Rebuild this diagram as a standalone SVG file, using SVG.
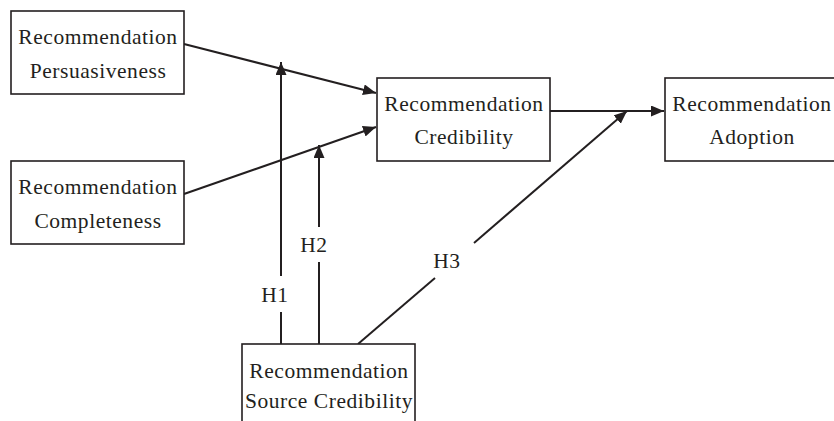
<svg xmlns="http://www.w3.org/2000/svg" width="834" height="421" viewBox="0 0 834 421">
<style>
.box{fill:#fff;stroke:#231f20;stroke-width:1.6}
.t{font-family:"Liberation Serif","Times New Roman",serif;font-size:21.5px;letter-spacing:0.55px;fill:#231f20;text-anchor:middle}
.c{stroke:#231f20;stroke-width:2;fill:none}
</style>
<defs>
<marker id="ah" markerUnits="userSpaceOnUse" markerWidth="14" markerHeight="12" refX="13" refY="5.5" orient="auto">
<path d="M0,0 L13,5.5 L0,11 z" fill="#231f20"/>
</marker>
</defs>
<rect width="834" height="421" fill="#fff"/>
<g id="connectors">
<line class="c" x1="184" y1="44" x2="376" y2="93" marker-end="url(#ah)"/>
<line class="c" x1="184" y1="194" x2="376" y2="127" marker-end="url(#ah)"/>
<line class="c" x1="550" y1="111" x2="664" y2="111" marker-end="url(#ah)"/>
<line class="c" x1="281" y1="344" x2="281" y2="312"/>
<line class="c" x1="281" y1="276" x2="281" y2="62" marker-end="url(#ah)"/>
<text class="t" x="275" y="302">H1</text>
<line class="c" x1="319" y1="344" x2="319" y2="262"/>
<line class="c" x1="319" y1="227" x2="319" y2="145" marker-end="url(#ah)"/>
<text class="t" x="314" y="252">H2</text>
<line class="c" x1="358" y1="344" x2="435" y2="278"/>
<line class="c" x1="474" y1="243" x2="627" y2="111" marker-end="url(#ah)"/>
<text class="t" x="447" y="268">H3</text>
</g>
<g id="persuasiveness">
<rect class="box" x="11" y="11" width="173" height="83"/>
<text class="t" x="98" y="44">Recommendation</text>
<text class="t" x="98" y="78">Persuasiveness</text>
</g>
<g id="completeness">
<rect class="box" x="11" y="161" width="173" height="83"/>
<text class="t" x="98" y="194">Recommendation</text>
<text class="t" x="98" y="228">Completeness</text>
</g>
<g id="credibility">
<rect class="box" x="377" y="78" width="173" height="83"/>
<text class="t" x="464" y="111">Recommendation</text>
<text class="t" x="464" y="144">Credibility</text>
</g>
<g id="adoption">
<rect class="box" x="665" y="78" width="173" height="83"/>
<text class="t" x="752" y="111">Recommendation</text>
<text class="t" x="752" y="144">Adoption</text>
</g>
<g id="source">
<rect class="box" x="242" y="344" width="173" height="83"/>
<text class="t" x="329" y="378">Recommendation</text>
<text class="t" x="329" y="408">Source Credibility</text>
</g>
</svg>
